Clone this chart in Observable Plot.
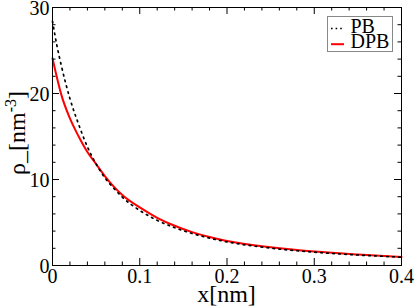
<!DOCTYPE html>
<html>
<head>
<meta charset="utf-8">
<script src="https://cdn.jsdelivr.net/npm/d3@7"></script>
<script src="https://cdn.jsdelivr.net/npm/@observablehq/plot@0.6"></script>
<style>
  html, body { margin: 0; padding: 0; background: #fff; }
  #chart { width: 415px; height: 307px; }
</style>
</head>
<body>
<div id="chart"></div>
<script>
// ---- data ----
const xs = [0, 0.005, 0.01, 0.02, 0.03, 0.04, 0.05, 0.06, 0.07, 0.08, 0.10, 0.12, 0.14, 0.16, 0.18, 0.20, 0.25, 0.30, 0.35, 0.40];
const pbValues  = [28.4, 25.6, 23.3, 19.4, 16.4, 13.8, 11.8, 10.2, 9.0, 7.95, 6.4, 5.25, 4.4, 3.72, 3.18, 2.75, 2.02, 1.55, 1.22, 0.97];
const dpbValues = [24.1, 21.9, 19.9, 17.1, 15.0, 13.2, 11.8, 10.4, 9.2, 8.2, 6.75, 5.55, 4.62, 3.88, 3.32, 2.86, 2.12, 1.62, 1.27, 0.99];
const seriesNames = ["PB", "DPB"];
const xMajorTicks = [0, 0.1, 0.2, 0.3, 0.4];
const xMinorTicks = [0.02, 0.04, 0.06, 0.08, 0.12, 0.14, 0.16, 0.18, 0.22, 0.24, 0.26, 0.28, 0.32, 0.34, 0.36, 0.38];
const yMajorTicks = [0, 10, 20, 30];
const yMinorTicks = [2, 4, 6, 8, 12, 14, 16, 18, 22, 24, 26, 28];
const xLabel = "x[nm]";
const yLabelMain = "ρ_[nm";
const yLabelSup = "-3";
const yLabelEnd = "]";

const pb = xs.map((x, i) => ({x, v: pbValues[i]}));
const dpb = xs.map((x, i) => ({x, v: dpbValues[i]}));

// ---- layout ----
const W = 415, H = 307;
const mL = 52, mR = 14, mT = 7, mB = 42;
const fw = W - mL - mR, fh = H - mT - mB;
const majorLen = 7, minorLen = 3.5;
const font = '"Liberation Serif"';

const tickRules = (vals, len) => [
  Plot.ruleX(vals, {x: d => d, insetTop: fh - len, stroke: "black"}),
  Plot.ruleX(vals, {x: d => d, insetBottom: fh - len, stroke: "black"}),
];
const tickRulesY = (vals, len) => [
  Plot.ruleY(vals, {y: d => d, insetRight: fw - len, stroke: "black"}),
  Plot.ruleY(vals, {y: d => d, insetLeft: fw - len, stroke: "black"}),
];

const chart = Plot.plot({
  width: W, height: H,
  marginLeft: mL, marginRight: mR, marginTop: mT, marginBottom: mB,
  x: {domain: [0, 0.4], label: null},
  y: {domain: [0, 30], label: null},
  style: {fontFamily: font, fontSize: "20px", background: "white", color: "black", overflow: "visible"},
  marks: [
    Plot.line(dpb, {x: "x", y: "v", stroke: "#ff0000", strokeWidth: 2, curve: "monotone-x"}),
    Plot.line(pb, {x: "x", y: "v", stroke: "black", strokeWidth: 1.7, strokeDasharray: "1.6,4.4", curve: "monotone-x"}),
    ...tickRules(xMajorTicks, majorLen),
    ...tickRules(xMinorTicks, minorLen),
    ...tickRulesY(yMajorTicks, majorLen),
    ...tickRulesY(yMinorTicks, minorLen),
    Plot.frame({stroke: "black"}),
    Plot.axisX(xMajorTicks, {tickSize: 0, tickPadding: 3, tickFormat: d => String(d), fontSize: 20, label: null}),
    Plot.axisY(yMajorTicks, {tickSize: 0, tickPadding: 3, dy: 1, tickFormat: d => String(d), fontSize: 20, label: null})
  ]
});
document.getElementById("chart").appendChild(chart);

// ---- axis titles and legend ----
const svg = d3.select(chart);
svg.append("text")
  .attr("x", mL + fw / 2).attr("y", 302)
  .attr("text-anchor", "middle")
  .attr("font-size", 24).attr("fill", "black")
  .text(xLabel);

const yl = svg.append("text")
  .attr("transform", `translate(25,${mT + fh / 2 - 3}) rotate(-90)`)
  .attr("text-anchor", "middle")
  .attr("font-size", 24).attr("fill", "black");
yl.append("tspan").text(yLabelMain);
yl.append("tspan").attr("font-size", 16).attr("dy", -9).text(yLabelSup);
yl.append("tspan").attr("dy", 9).text(yLabelEnd);

const lg = svg.append("g");
lg.append("rect").attr("x", 327.5).attr("y", 16.5).attr("width", 65).attr("height", 35)
  .attr("fill", "white").attr("stroke", "#888").attr("stroke-width", 1);
const legendStyles = [
  {stroke: "black", width: 1.7, dash: "1.6,3"},
  {stroke: "#ff0000", width: 2, dash: null}
];
seriesNames.forEach((name, i) => {
  const yb = 32.5 + i * 15.7;
  const line = lg.append("line").attr("x1", 331).attr("x2", 344)
    .attr("y1", yb - 4).attr("y2", yb - 4)
    .attr("stroke", legendStyles[i].stroke).attr("stroke-width", legendStyles[i].width);
  if (legendStyles[i].dash) line.attr("stroke-dasharray", legendStyles[i].dash);
  lg.append("text").attr("x", 350.5).attr("y", yb)
    .attr("text-anchor", "start")
    .attr("font-size", 20).attr("fill", "black")
    .text(name);
});
svg.selectAll("text").style("font-family", font);
</script>
</body>
</html>
